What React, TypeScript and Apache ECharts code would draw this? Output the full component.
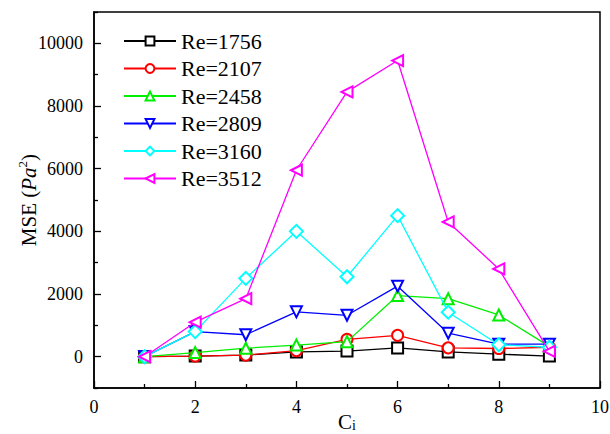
import React, { useEffect, useRef } from "react";
import * as echarts from "echarts";

const xValues = [1, 2, 3, 4, 5, 6, 7, 8, 9];
const seriesNames = ["Re=1756", "Re=2107", "Re=2458", "Re=2809", "Re=3160", "Re=3512"];
const re1756 = [0, 20, 50, 150, 180, 280, 150, 80, 20];
const re2107 = [0, 20, 50, 190, 550, 680, 280, 260, 300];
const re2458 = [0, 130, 270, 370, 480, 1950, 1850, 1330, 330];
const re2809 = [0, 800, 700, 1430, 1320, 2250, 750, 400, 400];
const re3160 = [0, 800, 2500, 4000, 2550, 4500, 1420, 380, 300];
const re3512 = [0, 1100, 1850, 5950, 8450, 9450, 4300, 2800, 170];
const yMajorTicks = [0, 2000, 4000, 6000, 8000, 10000];
const yMinorTicks = [-1000, 1000, 3000, 5000, 7000, 9000, 11000];

const allValues = [re1756, re2107, re2458, re2809, re3160, re3512];
const colors = ["#000000", "#ff0000", "#00ee00", "#0000ff", "#00ffff", "#ff00ff"];
const symbols = ["emptyRect", "emptyCircle", "emptyTriangle", "emptyTriangle", "emptyDiamond", "emptyTriangle"];
const rotations = [0, 0, 0, 180, 0, 90];

const FONT = "'Liberation Serif', 'DejaVu Serif', serif";

export default function App() {
  const ref = useRef<HTMLDivElement>(null);
  useEffect(() => {
    if (!ref.current) return;
    const chart = echarts.init(ref.current, null, { renderer: "svg" });
    const series = allValues.map((vals, k) => ({
      name: seriesNames[k],
      type: "line",
      data: xValues.map((x, i) => [x, vals[i]]),
      symbol: symbols[k],
      symbolRotate: rotations[k],
      symbolSize: k === 4 ? 13 : 11,
      lineStyle: { color: colors[k], width: 1.3 },
      itemStyle: { color: colors[k], borderColor: colors[k], borderWidth: 1.3 },
      z: 2 + k,
    }));
    chart.setOption({
      animation: false,
      backgroundColor: "#ffffff",
      textStyle: { fontFamily: FONT },
      grid: {
        left: 94,
        right: 10,
        top: 12,
        bottom: 46,
        outerBoundsMode: "none",
        containLabel: false,
        show: true,
        borderColor: "#000",
        borderWidth: 1.5,
        backgroundColor: "transparent",
      },
      legend: {
        orient: "vertical",
        left: 123,
        top: 30,
        padding: 0,
        itemWidth: 52,
        itemHeight: 11,
        itemGap: 5.5,
        textStyle: { fontFamily: FONT, fontSize: 22, color: "#000", lineHeight: 22 },
        data: seriesNames,
      },
      xAxis: {
        type: "value",
        min: 0,
        max: 10,
        interval: 2,
        name: "{c|C}{i|i}",
        nameLocation: "middle",
        nameGap: 23,
        nameMoveOverlap: false,
        nameTextStyle: {
          rich: {
            c: { fontFamily: FONT, fontSize: 21, color: "#000", lineHeight: 21 },
            i: { fontFamily: FONT, fontSize: 14, color: "#000", lineHeight: 14, padding: [7, 0, 0, 0] },
          },
        },
        axisLine: { show: true, onZero: false, lineStyle: { color: "#000", width: 1.5 } },
        axisTick: { show: true, inside: true, length: 7, lineStyle: { color: "#000", width: 1.3 } },
        minorTick: { show: true, splitNumber: 2, length: 4, lineStyle: { color: "#000", width: 1.3 } },
        axisLabel: { fontFamily: FONT, fontSize: 18, color: "#000", margin: 10 },
        splitLine: { show: false },
      },
      yAxis: [
        {
          type: "value",
          min: -1000,
          max: 11000,
          name: "{n|MSE (}{i|Pa}{s|2}{n|)}",
          nameLocation: "middle",
          nameGap: 53,
          nameMoveOverlap: false,
          nameRotate: 90,
          nameTextStyle: {
            rich: {
              n: { fontFamily: FONT, fontSize: 21, color: "#000" },
              i: { fontFamily: FONT, fontSize: 21, fontStyle: "italic", color: "#000" },
              s: { fontFamily: FONT, fontSize: 13, color: "#000", padding: [0, 0, 12, 0] },
            },
          },
          axisLine: { show: true, onZero: false, lineStyle: { color: "#000", width: 1.5 } },
          axisTick: { show: true, inside: true, length: 7, customValues: yMajorTicks, lineStyle: { color: "#000", width: 1.3 } },
          axisLabel: {
            fontFamily: FONT,
            fontSize: 18,
            color: "#000",
            margin: 11,
            customValues: yMajorTicks,
            formatter: (v: number) => String(v),
          },
          splitLine: { show: false },
        },
        {
          type: "value",
          min: -1000,
          max: 11000,
          position: "left",
          axisLine: { show: false, onZero: false },
          axisTick: { show: true, inside: true, length: 4, customValues: yMinorTicks, lineStyle: { color: "#000", width: 1.3 } },
          axisLabel: { show: false },
          splitLine: { show: false },
        },
      ],
      series,
    });
    return () => chart.dispose();
  }, []);
  return <div ref={ref} style={{ position: "fixed", left: 0, top: 0, width: 610, height: 434 }} />;
}
